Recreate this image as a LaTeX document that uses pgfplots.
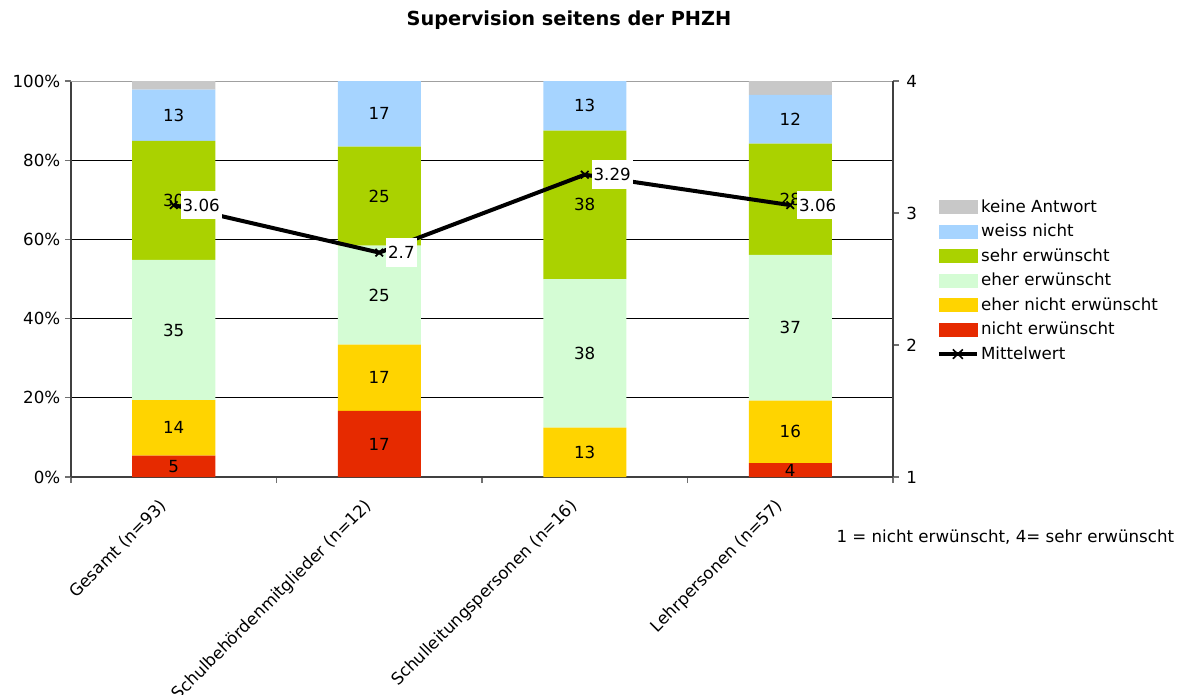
\documentclass[border=0pt]{standalone}
\usepackage{pgfplots}
\usepackage{pgfplotstable}
\pgfplotsset{compat=1.18}
\usepackage{fontspec}
\setmainfont{DejaVu Sans}
\definecolor{cKA}{HTML}{C8C8C8}
\definecolor{cWN}{HTML}{A6D4FF}
\definecolor{cSE}{HTML}{AAD200}
\definecolor{cEE}{HTML}{D4FCD4}
\definecolor{cEN}{HTML}{FFD400}
\definecolor{cNE}{HTML}{E62A00}
\definecolor{axgray}{HTML}{404040}
\definecolor{tickgray}{HTML}{707070}
\definecolor{topgray}{HTML}{A0A0A0}

\pgfplotstableread{
x ne en ee se wn ka
0 5.4 14.0 35.4 30.1 12.9 2.2
1 16.7 16.7 25.0 25.0 16.6 0
2 0 12.5 37.5 37.5 12.5 0
3 3.5 15.8 36.8 28.1 12.3 3.5
}\data
\pgfplotstableread{
x m
0 3.06
1 2.7
2 3.29
3 3.06
}\mean

\pgfplotsset{
  base/.style={
    at={(53.25pt,162.75pt)}, anchor=south west,
    scale only axis, width=616.5pt, height=297pt,
    xmin=-0.5, xmax=3.5,
    /pgf/number format/assume math mode=true,
  },
}
\begin{document}
\begin{tikzpicture}[font=\fontsize{12.5pt}{14.5pt}\selectfont]
\useasboundingbox (0,0) rectangle (887.25pt,520.5pt);
% bars
\begin{axis}[base,
  ybar stacked, bar width=62.25pt,
  ymin=0, ymax=100,
  axis x line*=bottom, axis y line*=left,
  ytick={0,20,40,60,80},
  yticklabel={\pgfmathprintnumber{\tick}\%},
  extra y ticks={100}, extra y tick labels={100\%},
  extra y tick style={grid style={draw=topgray}},
  ymajorgrids, grid style={black, line width=0.6pt},
  axis line style={draw=axgray, line width=0.8pt},
  tick style={draw=tickgray, line width=0.8pt},
  tick align=outside, major tick length=4.5pt,
  xtick={-0.5,0.5,1.5,2.5,3.5}, xticklabels={},
  extra x ticks={0,1,2,3},
  extra x tick labels={Gesamt (n=93), Schulbehördenmitglieder (n=12), Schulleitungspersonen (n=16), Lehrpersonen (n=57)},
  extra x tick style={tick style={draw=none}},
  x tick label style={xshift=-5pt, yshift=-13pt, rotate=45, anchor=east},
  legend style={at={(1.0535,0.708)}, anchor=north west, draw=none, fill=none,
    inner sep=0pt, row sep=3.4pt, font=\fontsize{12.5pt}{14.5pt}\selectfont},
  legend cell align=left,
]
\addlegendimage{legend image code/.code={\fill[cKA] (0pt,-4.9pt) rectangle (28.5pt,4.9pt);}}
\addlegendentry{keine Antwort}
\addlegendimage{legend image code/.code={\fill[cWN] (0pt,-4.9pt) rectangle (28.5pt,4.9pt);}}
\addlegendentry{weiss nicht}
\addlegendimage{legend image code/.code={\fill[cSE] (0pt,-4.9pt) rectangle (28.5pt,4.9pt);}}
\addlegendentry{sehr erwünscht}
\addlegendimage{legend image code/.code={\fill[cEE] (0pt,-4.9pt) rectangle (28.5pt,4.9pt);}}
\addlegendentry{eher erwünscht}
\addlegendimage{legend image code/.code={\fill[cEN] (0pt,-4.9pt) rectangle (28.5pt,4.9pt);}}
\addlegendentry{eher nicht erwünscht}
\addlegendimage{legend image code/.code={\fill[cNE] (0pt,-4.9pt) rectangle (28.5pt,4.9pt);}}
\addlegendentry{nicht erwünscht}
\addlegendimage{legend image code/.code={\draw[black,line width=2.4pt] (0pt,0pt)--(28.5pt,0pt); \draw[black,line width=1.2pt] (10.5pt,-3.5pt)--(18pt,3.5pt) (10.5pt,3.5pt)--(18pt,-3.5pt);}}
\addlegendentry{Mittelwert}
\addplot[fill=cNE, draw=none, forget plot] table[x=x,y=ne]{\data};
\addplot[fill=cEN, draw=none, forget plot] table[x=x,y=en]{\data};
\addplot[fill=cEE, draw=none, forget plot] table[x=x,y=ee]{\data};
\addplot[fill=cSE, draw=none, forget plot] table[x=x,y=se]{\data};
\addplot[fill=cWN, draw=none, forget plot] table[x=x,y=wn]{\data};
\addplot[fill=cKA, draw=none, forget plot] table[x=x,y=ka]{\data};
\end{axis}
% segment labels
\begin{axis}[base, hide axis, ymin=0, ymax=100,
  point meta=explicit,
  nodes near coords={\pgfmathfloatifflags{\pgfplotspointmeta}{0}{}{\pgfmathprintnumber[fixed,precision=0]{\pgfplotspointmeta}}},
  every node near coord/.append style={anchor=center, text=black, inner sep=0pt},
]
\addplot[draw=none, mark=none] table[x=x, y expr=\thisrow{ne}/2, meta=ne]{\data};
\addplot[draw=none, mark=none] table[x=x, y expr=\thisrow{ne}+\thisrow{en}/2, meta=en]{\data};
\addplot[draw=none, mark=none] table[x=x, y expr=\thisrow{ne}+\thisrow{en}+\thisrow{ee}/2, meta=ee]{\data};
\addplot[draw=none, mark=none] table[x=x, y expr=\thisrow{ne}+\thisrow{en}+\thisrow{ee}+\thisrow{se}/2, meta=se]{\data};
\addplot[draw=none, mark=none] table[x=x, y expr=\thisrow{ne}+\thisrow{en}+\thisrow{ee}+\thisrow{se}+\thisrow{wn}/2, meta=wn]{\data};
\end{axis}
% mean line, right axis
\begin{axis}[base, ymin=1, ymax=4, ytick={1,2,3,4},
  axis y line*=right, axis x line=none,
  axis line style={draw=axgray, line width=0.8pt},
  tick style={draw=tickgray, line width=0.8pt},
  tick align=outside, major tick length=4.5pt,
  yticklabel style={xshift=2pt},
]
\addplot[black, line width=3pt, mark=x, mark size=4pt, mark options={line width=1.3pt},
  point meta=y,
  nodes near coords={\pgfmathprintnumber{\pgfplotspointmeta}},
  every node near coord/.append style={anchor=west, fill=white, text=black, inner xsep=1.5pt, inner ysep=0pt, minimum height=21.5pt, xshift=4.5pt}]
  table[x=x,y=m]{\mean};
\end{axis}
\node[font=\fontsize{14.5pt}{16.5pt}\selectfont\bfseries] at (426.75pt,505pt) {Supervision seitens der PHZH};
\node at (754pt,117.75pt) {1 = nicht erwünscht, 4= sehr erwünscht};
\end{tikzpicture}
\end{document}
